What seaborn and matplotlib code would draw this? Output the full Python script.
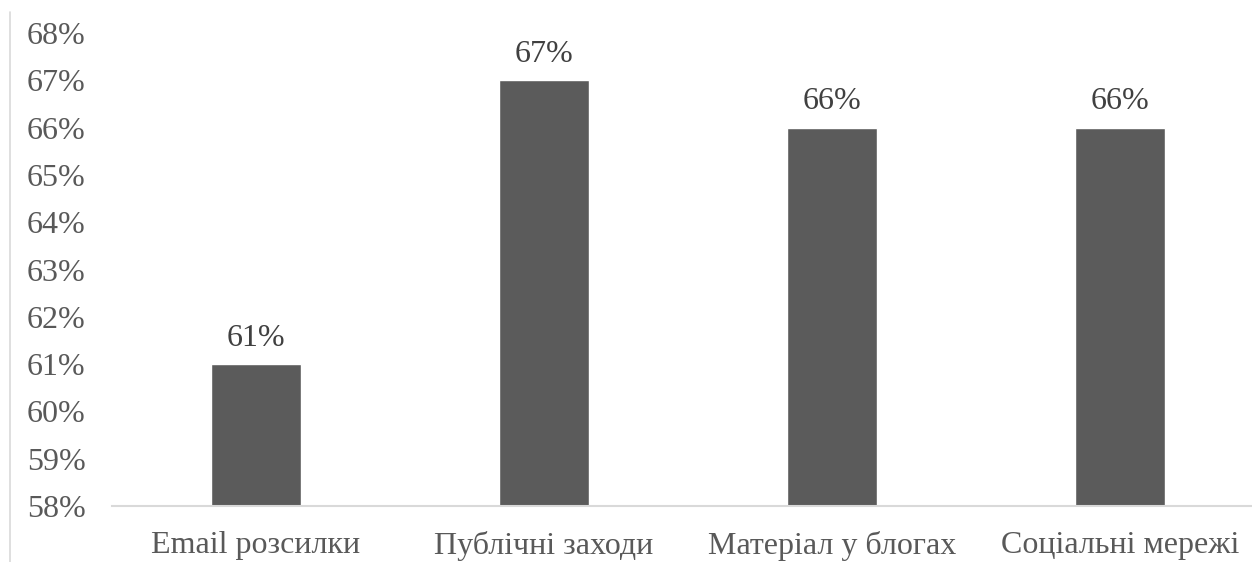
import matplotlib
matplotlib.use("Agg")
import matplotlib.pyplot as plt
from matplotlib.lines import Line2D
from matplotlib.ticker import FuncFormatter, MultipleLocator
import seaborn as sns
import pandas as pd

categories = ["Email розсилки", "Публічні заходи", "Матеріал у блогах", "Соціальні мережі"]
values = [61, 67, 66, 66]
value_labels = ["61%", "67%", "66%", "66%"]

FONT = "Liberation Serif"

sns.set_theme(style="white")
plt.rcParams["font.family"] = [FONT, "DejaVu Serif"]

W, H, DPI = 1252, 562, 100
fig = plt.figure(figsize=(W / DPI, H / DPI), dpi=DPI)

left_px, right_px = 112, 1264
top_px, bottom_px = 33, 506
ax = fig.add_axes([left_px / W, 1 - bottom_px / H,
                   (right_px - left_px) / W, (bottom_px - top_px) / H])

df = pd.DataFrame({"category": categories, "value": values})
sns.barplot(data=df, x="category", y="value", color="#5b5b5b",
            width=0.3125, saturation=1, ax=ax)

ax.set_ylim(58, 68)
ax.set_xlim(-0.5, len(categories) - 0.5)
ax.yaxis.set_major_locator(MultipleLocator(1))
ax.yaxis.set_major_formatter(FuncFormatter(lambda v, _: f"{v:.0f}%"))
ax.set_xlabel("")
ax.set_ylabel("")

for side in ["top", "right", "left"]:
    ax.spines[side].set_visible(False)
ax.spines["bottom"].set_color("#d9d9d9")
ax.spines["bottom"].set_linewidth(1.5)

ax.tick_params(axis="y", length=0, pad=19, labelsize=23, labelcolor="#595959")
ax.tick_params(axis="x", length=0, pad=18, labelsize=23, labelcolor="#595959")
for lbl in ax.get_xticklabels() + ax.get_yticklabels():
    lbl.set_fontfamily(FONT)

for container in ax.containers:
    ax.bar_label(container, labels=value_labels, padding=8,
                 fontsize=23, color="#404040", fontfamily=FONT)

# thin frame edge on the left
fig.add_artist(Line2D([10 / W, 10 / W], [0, 1 - 12 / H],
                      transform=fig.transFigure, color="#d9d9d9", linewidth=1.2))

fig.savefig("out.png", dpi=DPI)
